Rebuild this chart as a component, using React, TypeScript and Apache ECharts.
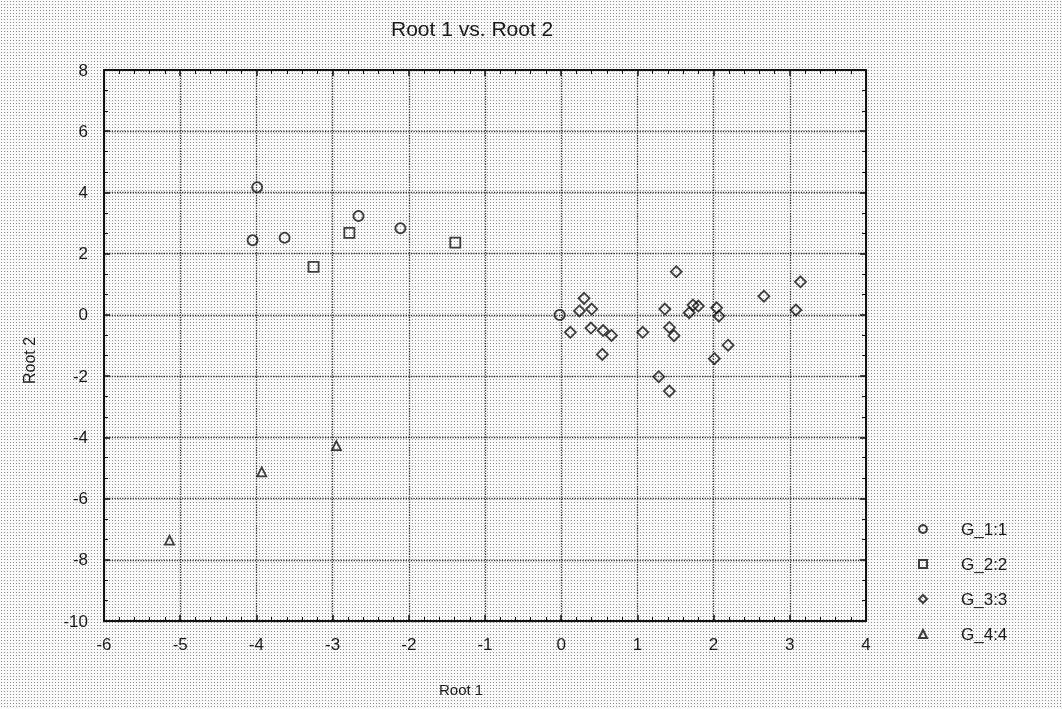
import React, { useEffect, useRef } from "react";
import * as echarts from "echarts";

const titleText = "Root 1 vs. Root 2";
const xName = "Root 1";
const yName = "Root 2";
const seriesNames = ["G_1:1", "G_2:2", "G_3:3", "G_4:4"];

const g1Points = [
  [-3.99, 4.17],
  [-4.05, 2.44],
  [-3.63, 2.52],
  [-2.66, 3.23],
  [-2.11, 2.83],
  [-0.02, 0.0],
];
const g2Points = [
  [-3.25, 1.57],
  [-2.78, 2.68],
  [-1.39, 2.36],
];
const g3Points = [
  [0.12, -0.57],
  [0.24, 0.13],
  [0.3, 0.54],
  [0.4, 0.19],
  [0.39, -0.43],
  [0.55, -0.51],
  [0.66, -0.67],
  [0.54, -1.29],
  [1.07, -0.57],
  [1.36, 0.19],
  [1.51, 1.41],
  [1.42, -0.41],
  [1.48, -0.68],
  [1.28, -2.02],
  [1.42, -2.49],
  [1.68, 0.07],
  [1.73, 0.32],
  [1.8, 0.29],
  [2.04, 0.23],
  [2.07, -0.04],
  [2.19, -0.99],
  [2.01, -1.43],
  [2.66, 0.61],
  [3.08, 0.16],
  [3.14, 1.08],
];
const g4Points = [
  [-2.95, -4.27],
  [-3.93, -5.13],
  [-5.14, -7.36],
];

const seriesData = [g1Points, g2Points, g3Points, g4Points];
const seriesSymbols = ["circle", "rect", "diamond", "triangle"];
const seriesSizes = [10, 10, 11, 9];

export default function App() {
  const ref = useRef<HTMLDivElement>(null);
  useEffect(() => {
    if (!ref.current) return;
    const chart = echarts.init(ref.current, null, { renderer: "svg" });

    const canvas = document.createElement("canvas");
    canvas.width = 3;
    canvas.height = 3;
    const ctx = canvas.getContext("2d");
    if (ctx) {
      ctx.fillStyle = "#fafafa";
      ctx.fillRect(0, 0, 3, 3);
      ctx.fillStyle = "#8c8c8c";
      ctx.fillRect(1, 1, 1, 1);
    }

    const font = "'Liberation Sans', Arial, sans-serif";
    const txt = "#1a1a1a";

    const xCommon = {
      type: "value",
      min: -6,
      max: 4,
      interval: 1,
      axisLine: { show: true, onZero: false, lineStyle: { color: "#111", width: 2 } },
      axisTick: { show: true, inside: true, length: 6, lineStyle: { color: "#111", width: 1.5 } },
      minorTick: { show: true, splitNumber: 5, length: 4, lineStyle: { color: "#111", width: 1 } },
    };
    const yCommon = {
      type: "value",
      min: -10,
      max: 8,
      interval: 2,
      axisLine: { show: true, onZero: false, lineStyle: { color: "#111", width: 2 } },
      axisTick: { show: true, inside: true, length: 6, lineStyle: { color: "#111", width: 1.5 } },
      minorTick: { show: true, splitNumber: 3, length: 4, lineStyle: { color: "#111", width: 1 } },
    };

    chart.setOption({
      animation: false,
      backgroundColor: { image: canvas, repeat: "repeat" },
      title: {
        text: titleText,
        left: 386,
        top: 13,
        textStyle: { fontFamily: font, fontSize: 21, fontWeight: "normal", color: txt },
      },
      grid: { left: 104, top: 70, width: 762, height: 551 },
      legend: {
        orient: "vertical",
        left: 918,
        top: 519,
        padding: 0,
        itemWidth: 8,
        itemHeight: 8,
        itemGap: 15,
        data: seriesNames,
        textStyle: {
          fontFamily: font,
          fontSize: 17,
          color: txt,
          lineHeight: 20,
          padding: [0, 0, 0, 29],
        },
      },
      xAxis: [
        {
          ...xCommon,
          position: "bottom",
          axisLabel: { show: true, margin: 15, fontFamily: font, fontSize: 17, color: txt },
          splitLine: { show: true, lineStyle: { type: "dotted", color: "#333", width: 1.3 } },
        },
        {
          ...xCommon,
          position: "top",
          axisLabel: { show: false },
          splitLine: { show: false },
        },
      ],
      yAxis: [
        {
          ...yCommon,
          position: "left",
          axisLabel: { show: true, margin: 16, fontFamily: font, fontSize: 17, color: txt },
          splitLine: { show: true, lineStyle: { type: "dotted", color: "#333", width: 1.3 } },
        },
        {
          ...yCommon,
          position: "right",
          axisLabel: { show: false },
          splitLine: { show: false },
        },
      ],
      graphic: [
        {
          type: "text",
          left: 439,
          top: 682,
          style: { text: xName, fontFamily: font, fontSize: 15, fill: txt },
        },
        {
          type: "text",
          x: 21,
          y: 384,
          rotation: Math.PI / 2,
          style: { text: yName, fontFamily: font, fontSize: 16, fill: txt },
        },
      ],
      series: seriesNames.map((name, i) => ({
        name,
        type: "scatter",
        xAxisIndex: 0,
        yAxisIndex: 0,
        symbol: seriesSymbols[i],
        symbolSize: seriesSizes[i],
        data: seriesData[i],
        itemStyle: { color: "rgba(255,255,255,0)", borderColor: "#111", borderWidth: 1.8 },
      })),
    });
    return () => chart.dispose();
  }, []);
  return (
    <div
      ref={ref}
      style={{ position: "fixed", left: 0, top: 0, width: 1062, height: 709 }}
    />
  );
}
